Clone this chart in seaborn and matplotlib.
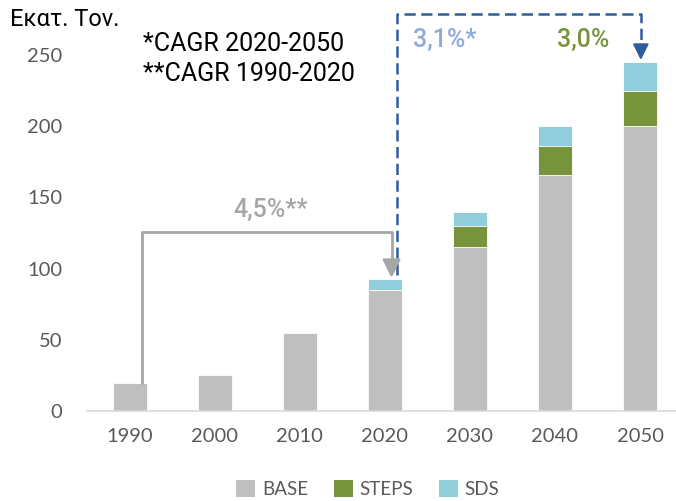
import matplotlib
matplotlib.use("Agg")
import matplotlib.pyplot as plt
import seaborn as sns
import pandas as pd
import numpy as np
from matplotlib.patches import Patch

years = ["1990", "2000", "2010", "2020", "2030", "2040", "2050"]
base = [20, 25, 55, 85, 115, 166, 200]
steps = [0, 0, 0, 0, 15, 20, 25]
sds = [0, 0, 0, 8, 10, 14, 20]
series = ["BASE", "STEPS", "SDS"]
colors = {"BASE": "#BFBFBF", "STEPS": "#77933C", "SDS": "#92CDDC"}
yticks = [0, 50, 100, 150, 200, 250]

sns.set_theme(style="white")
plt.rcParams['font.family'] = ['Lato', 'DejaVu Sans']

fig = plt.figure(figsize=(6.76, 5.01), dpi=100)
ax = fig.add_axes([87/676, 90/501, (680-87)/676, 356/501])

cum_steps = np.array(base) + np.array(steps)
cum_sds = cum_steps + np.array(sds)
df = pd.DataFrame({"year": years, "BASE": base, "STEPS": cum_steps, "SDS": cum_sds})

for name in ["SDS", "STEPS", "BASE"]:
    sns.barplot(data=df, x="year", y=name, color=colors[name], width=0.4,
                saturation=1, ax=ax, edgecolor="white", linewidth=0.6)

ax.set_xlim(-0.5, 6.47)
ax.set_ylim(0, 250)
ax.set_yticks(yticks)
ax.set_yticklabels([str(t) for t in yticks])
ax.set_xlabel("")
ax.set_ylabel("")
for s in ["left", "right", "top"]:
    ax.spines[s].set_visible(False)
ax.spines["bottom"].set_color("#D9D9D9")
ax.spines["bottom"].set_linewidth(1.2)
ax.tick_params(axis="both", length=0, labelsize=14.5, labelcolor="#595959")
ax.tick_params(axis="y", pad=18)
ax.tick_params(axis="x", pad=12)

rob = ["Roboto", "DejaVu Sans"]

# gray CAGR bracket 1990-2020
gray = "#A6A6A6"
ax.plot([0.15, 0.15, 3.08, 3.08], [base[0], 125.7, 125.7, 105], color=gray, lw=2, clip_on=False)
ax.annotate("", xy=(3.08, 93.5), xytext=(3.08, 106),
            arrowprops=dict(arrowstyle="-|>,head_width=0.45,head_length=0.9", color=gray, lw=2,
                            shrinkA=0, shrinkB=0), annotation_clip=False)
ax.text(1.66, 141, "4,5%**", color=gray, fontsize=18, fontweight="medium",
        family=rob, ha="center", va="center")

# blue dashed CAGR bracket 2020-2050
blue = "#2F5C9E"
ax.plot([3.14, 3.14, 6.01, 6.01], [95.5, 279, 279, 256], color=blue, lw=1.8,
        ls=(0, (4.5, 2.2)), clip_on=False)
ax.annotate("", xy=(6.01, 246.5), xytext=(6.01, 257),
            arrowprops=dict(arrowstyle="-|>,head_width=0.4,head_length=0.8", color=blue, lw=1.5,
                            shrinkA=0, shrinkB=0), annotation_clip=False)
ax.text(3.7, 260.5, "3,1%*", color="#8EA9DB", fontsize=18, fontweight="medium",
        family=rob, ha="center", va="center")
ax.text(5.33, 260.5, "3,0%", color="#77933C", fontsize=18, fontweight="medium",
        family=rob, ha="center", va="center")

fig.text(10/676, 1 - 20/501, "Εκατ. Τον.", fontsize=17, color="black",
         family=rob, ha="left", va="center")
fig.text(143/676, 1 - 44/501, "*CAGR 2020-2050", fontsize=18, color="black",
         family=rob, ha="left", va="center")
fig.text(143/676, 1 - 74/501, "**CAGR 1990-2020", fontsize=18, color="black",
         family=rob, ha="left", va="center")

handles = [Patch(facecolor=colors[s], edgecolor="none", label=s) for s in series]
leg = fig.legend(handles=handles, loc="center", bbox_to_anchor=(368/676, 1 - 489/501),
                 ncol=3, frameon=False, fontsize=13.5, handlelength=1.0, handleheight=1.0,
                 handletextpad=0.35, columnspacing=1.4)
for t in leg.get_texts():
    t.set_color("#595959")

fig.savefig("out.png", dpi=100)
